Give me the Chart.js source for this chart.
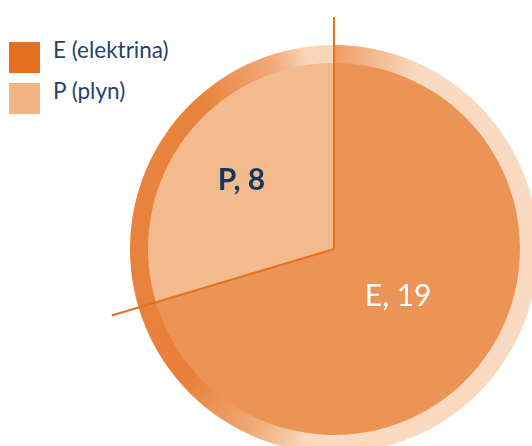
<!DOCTYPE html>
<html>
<head>
<meta charset="utf-8">
<script src="https://cdn.jsdelivr.net/npm/chart.js@4"></script>
<style>
    html, body { margin: 0; padding: 0; background: #fff; width: 532px; height: 446px; overflow: hidden; position: relative; }
    #chart { position: absolute; left: 98px; top: 13px; }
    .legendItem { position: absolute; left: 9px; height: 31px; }
    .legendBox { position: absolute; left: 0; top: 0; width: 31px; height: 31px; }
    .legendText { position: absolute; left: 44px; white-space: nowrap; font-family: Lato, sans-serif; font-weight: 400; font-size: 22.5px; line-height: 22px; color: #24426B; }
</style>
</head>
<body>
<div id="legend"></div>
<canvas id="chart" width="472" height="472"></canvas>
<script>
const categories = ['E', 'P'];
const legendLabels = ['E (elektrina)', 'P (plyn)'];
const values = [19, 8];

const sliceColors = ['#EC9455', '#F3BA8E'];
const legendColors = ['#E36F1E', '#F4B383'];
const labelColors = ['#FFFFFF', '#14375E'];

// html legend, top left
const legend = document.getElementById('legend');
legendLabels.forEach((text, i) => {
    const item = document.createElement('div');
    item.className = 'legendItem';
    item.style.top = (42 + i * 41) + 'px';
    item.innerHTML = `<div class="legendBox" style="background:${legendColors[i]}"></div>` +
        `<div class="legendText" style="top:-3px">${text}</div>`;
    legend.appendChild(item);
});

// shaded rim behind the pie
const rimPlugin = {
    id: 'rim',
    beforeDatasetsDraw(chart) {
        const arc = chart.getDatasetMeta(0).data[0];
        if (!arc) return;
        const ctx = chart.ctx;
        const cx = arc.x, cy = arc.y, r = arc.outerRadius + 18;
        const g = ctx.createConicGradient(-Math.PI / 2, cx, cy);
        g.addColorStop(0, '#EE9C62');
        g.addColorStop(25 / 360, '#F9D9C0');
        g.addColorStop(188 / 360, '#F9D9C0');
        g.addColorStop(205 / 360, '#F0A874');
        g.addColorStop(228 / 360, '#E8803A');
        g.addColorStop(318 / 360, '#E8833D');
        g.addColorStop(342 / 360, '#F0AA78');
        g.addColorStop(352 / 360, '#F8D6BA');
        g.addColorStop(1, '#F8D6BA');
        ctx.save();
        ctx.beginPath();
        ctx.arc(cx, cy, r, 0, Math.PI * 2);
        ctx.fillStyle = g;
        ctx.fill();
        ctx.restore();
    }
};

// slice edges drawn out past the rim, and the value labels
const edgePlugin = {
    id: 'edges',
    afterDatasetsDraw(chart) {
        const ctx = chart.ctx;
        const arcs = chart.getDatasetMeta(0).data;
        ctx.save();
        ctx.strokeStyle = '#E5701F';
        ctx.lineWidth = 2;
        arcs.forEach(arc => {
            const len = arc.outerRadius + 46;
            ctx.beginPath();
            ctx.moveTo(arc.x, arc.y);
            ctx.lineTo(arc.x + Math.cos(arc.startAngle) * len, arc.y + Math.sin(arc.startAngle) * len);
            ctx.stroke();
        });

        const radii = [0.43, 0.62];
        const fonts = ['400 30px Lato, sans-serif', '700 30px Lato, sans-serif'];
        ctx.textAlign = 'center';
        ctx.textBaseline = 'middle';
        arcs.forEach((arc, i) => {
            const mid = (arc.startAngle + arc.endAngle) / 2;
            const r = arc.outerRadius * radii[i];
            ctx.font = fonts[i];
            ctx.fillStyle = labelColors[i];
            ctx.fillText(categories[i] + ', ' + values[i], arc.x + Math.cos(mid) * r, arc.y + Math.sin(mid) * r);
        });
        ctx.restore();
    }
};

const ctx = document.getElementById('chart').getContext('2d');
const pieChart = new Chart(ctx, {
    type: 'pie',
    data: {
        labels: legendLabels,
        datasets: [{
            data: values,
            backgroundColor: sliceColors,
            borderWidth: 0
        }]
    },
    options: {
        responsive: false,
        animation: false,
        devicePixelRatio: 1,
        layout: { padding: 50 },
        plugins: {
            legend: { display: false },
            tooltip: { enabled: false }
        }
    },
    plugins: [rimPlugin, edgePlugin]
});
</script>
</body>
</html>
